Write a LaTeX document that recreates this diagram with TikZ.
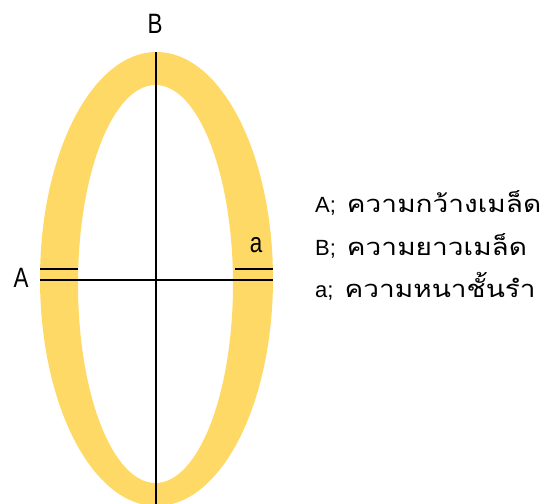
\documentclass[tikz,border=0pt]{standalone}
\usepackage{fontspec}
\setmainfont{Liberation Sans}
\newfontfamily\thaifont[Script=Thai,Scale=1.08,FakeStretch=1.18]{Loma}
\usepackage{tikz}
\usetikzlibrary{positioning,calc}
\definecolor{husk}{HTML}{FFD966}

\begin{document}
\begin{tikzpicture}[
    x=1pt, y=-1pt,
    axis/.style={line width=2.8pt, black},
    mark line/.style={line width=2.8pt, black},
    lbl/.style={font=\fontsize{28}{30}\selectfont, inner sep=0pt, xscale=0.8, transform shape},
    legend/.style={font=\fontsize{22}{24}\selectfont, anchor=base west, inner sep=0pt}
]
\useasboundingbox (0,0) rectangle (542,504);
% grain outline
\fill[husk, even odd rule] (156.5,279) ellipse [x radius=116.5, y radius=227]
                           (155.5,284) ellipse [x radius=77.5, y radius=199];

\coordinate (top) at (156,52);
\coordinate (bot) at (156,504);
\coordinate (left) at (40,280);
\coordinate (right) at (273,280);
\coordinate (al) at (40,269);
\coordinate (ar) at (78,269);
\coordinate (bl) at (235,269);
\coordinate (br) at (273,269);

\draw[axis] (top) -- (bot);
\draw[axis] (left) -- (right);
\draw[mark line] (al) -- (ar);
\draw[mark line] (bl) -- (br);

\node[lbl] (labB) at (155,24) {B};
\node[lbl] (labA) at (21,278) {A};
\node[lbl] (laba) at (256,245) {a};

\node[legend] (leg1) at (315,212) {A;\enspace{\thaifont ความกว้างเมล็ด}};
\node[legend] (leg2) at (315,255) {B;\enspace{\thaifont ความยาวเมล็ด}};
\node[legend] (leg3) at (315,297) {a;\enspace{\thaifont ความหนาชั้นรำ}};
\end{tikzpicture}
\end{document}
